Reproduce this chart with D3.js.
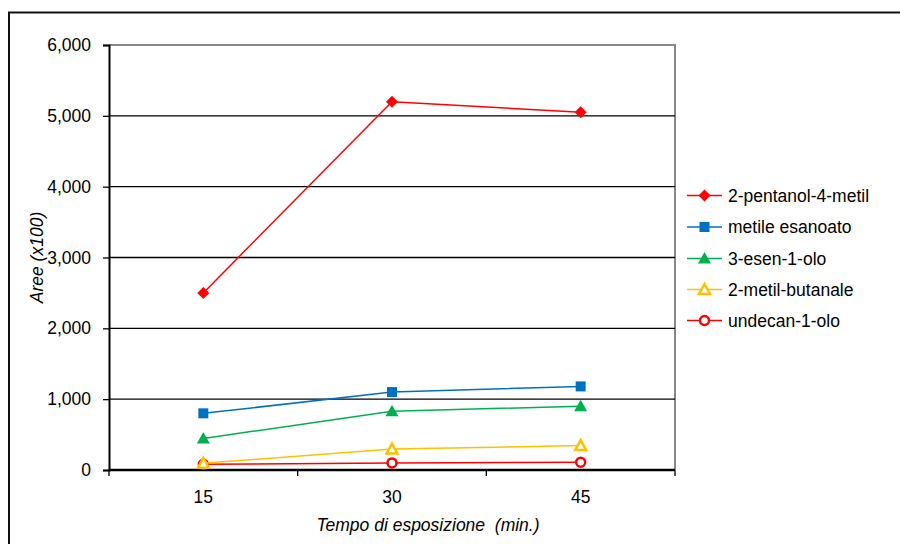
<!DOCTYPE html>
<html><head><meta charset="utf-8">
<script src="https://cdn.jsdelivr.net/npm/d3@7"></script>
<style>body{margin:0;background:#fff}svg{display:block}text{font-family:"Liberation Sans",Arial,sans-serif}</style>
</head><body><svg id="c" width="900" height="544"></svg>
<script>
const categories = ["15", "30", "45"];
const seriesNames = ["2-pentanol-4-metil", "metile esanoato", "3-esen-1-olo", "2-metil-butanale", "undecan-1-olo"];
const pentanol = [2500, 5200, 5050];
const metileEsanoato = [800, 1100, 1180];
const esenolo = [445, 830, 900];
const metilButanale = [95, 295, 345];
const undecanolo = [80, 100, 110];
const yTicks = [0, 1000, 2000, 3000, 4000, 5000, 6000];
const colors = ["#FF0000", "#0070C0", "#00B050", "#FFC000", "#FF0000"];
const markers = ["diamond", "square", "triangle", "triangleOpen", "circleOpen"];
const allValues = [pentanol, metileEsanoato, esenolo, metilButanale, undecanolo];

const svg = d3.select("#c");
const L = 109, R = 675, T = 45, B = 470;
const x = d3.scaleBand().domain(categories).range([L, R]).paddingInner(0).paddingOuter(0);
const y = d3.scaleLinear().domain([0, 6000]).range([B, T]);
const fmt = d3.format(",");

// outer border
svg.append("rect").attr("x", 9).attr("y", 12.5).attr("width", 900).attr("height", 540)
  .attr("fill", "none").attr("stroke", "#111").attr("stroke-width", 2);

// plot border (gray top/right)
svg.append("path").attr("d", `M${L},${T}H${R}V${B}`).attr("fill", "none").attr("stroke", "#888").attr("stroke-width", 2);

// gridlines
svg.append("g").selectAll("line").data(yTicks.filter(d => d > 0 && d < 6000)).join("line")
  .attr("x1", L).attr("x2", R).attr("y1", d => y(d)).attr("y2", d => y(d))
  .attr("stroke", "#000").attr("stroke-width", 1.3);

// y axis
const yAxis = svg.append("g").attr("transform", `translate(${L},0)`)
  .call(d3.axisLeft(y).tickValues(yTicks).tickFormat(fmt).tickSize(6).tickPadding(12));
yAxis.select(".domain").attr("stroke", "#000").attr("stroke-width", 2);
yAxis.selectAll(".tick line").attr("stroke", "#000").attr("stroke-width", 1.3);
yAxis.selectAll("text").attr("font-size", "17.5px").attr("fill", "#000");

// x axis
const xAxis = svg.append("g").attr("transform", `translate(0,${B})`)
  .call(d3.axisBottom(x).tickSize(0).tickPadding(21));
xAxis.select(".domain").attr("stroke", "#000").attr("stroke-width", 2.5).attr("d", `M${L},0H${R}`);
xAxis.selectAll("text").attr("font-size", "17.5px").attr("fill", "#000");
// boundary ticks
const bounds = categories.map(c => x(c)).concat([R]);
svg.append("g").selectAll("line").data(bounds).join("line")
  .attr("x1", d => d).attr("x2", d => d).attr("y1", B).attr("y2", B + 6)
  .attr("stroke", "#000").attr("stroke-width", 1.3);

// axis titles
svg.append("text").attr("x", 428).attr("y", 531).attr("text-anchor", "middle")
  .attr("font-size", "17.5px").attr("font-style", "italic").style("white-space", "pre")
  .text("Tempo di esposizione  (min.)");
svg.append("text").attr("transform", `translate(43,${(T + B) / 2}) rotate(-90)`).attr("text-anchor", "middle")
  .attr("font-size", "17.5px").attr("font-style", "italic").text("Aree (x100)");

function drawMarker(g, type, color, cx, cy) {
  if (type === "diamond") {
    g.append("path").attr("d", `M${cx},${cy-6}L${cx+6},${cy}L${cx},${cy+6}L${cx-6},${cy}Z`).attr("fill", color);
  } else if (type === "square") {
    g.append("rect").attr("x", cx - 5).attr("y", cy - 5).attr("width", 10).attr("height", 10).attr("fill", color);
  } else if (type === "triangle") {
    g.append("path").attr("d", `M${cx},${cy-6.5}L${cx+6.5},${cy+5}L${cx-6.5},${cy+5}Z`).attr("fill", color);
  } else if (type === "triangleOpen") {
    g.append("path").attr("d", `M${cx},${cy-5.5}L${cx+5.5},${cy+4.5}L${cx-5.5},${cy+4.5}Z`)
      .attr("fill", "#fff").attr("stroke", color).attr("stroke-width", 2.5);
  } else if (type === "circleOpen") {
    g.append("circle").attr("cx", cx).attr("cy", cy).attr("r", 4.5)
      .attr("fill", "#fff").attr("stroke", color).attr("stroke-width", 2.5);
  }
}

const line = d3.line().x((d, i) => x(categories[i]) + x.bandwidth() / 2).y(d => y(d));
// draw in reverse so first series is on top
for (let s = allValues.length - 1; s >= 0; s--) {
  const g = svg.append("g");
  g.append("path").attr("d", line(allValues[s])).attr("fill", "none")
    .attr("stroke", colors[s]).attr("stroke-width", 1.5);
  allValues[s].forEach((v, i) => drawMarker(g, markers[s], colors[s], x(categories[i]) + x.bandwidth() / 2, y(v)));
}

// legend
const legY = [195.5, 227, 258.5, 289.5, 320.5];
seriesNames.forEach((name, s) => {
  const g = svg.append("g");
  g.append("line").attr("x1", 687).attr("x2", 722).attr("y1", legY[s]).attr("y2", legY[s])
    .attr("stroke", colors[s]).attr("stroke-width", 1.5);
  drawMarker(g, markers[s], colors[s], 704.5, legY[s]);
  g.append("text").attr("x", 728).attr("y", legY[s]).attr("dy", "0.35em")
    .attr("font-size", "17.5px").attr("fill", "#000").text(name);
});
</script></body></html>
